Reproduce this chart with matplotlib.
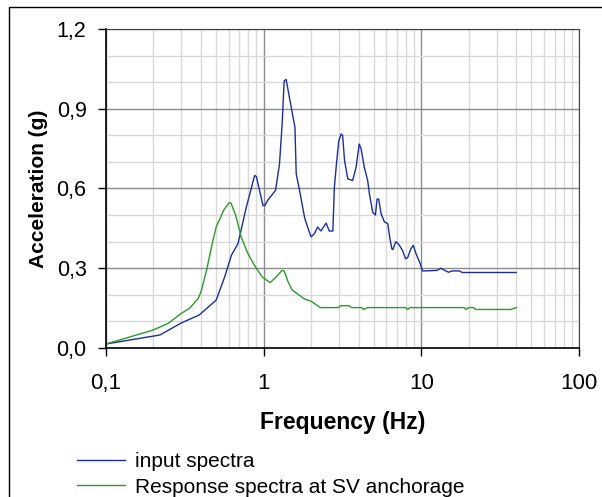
import matplotlib
matplotlib.use("Agg")
import matplotlib.pyplot as plt
from matplotlib.patches import Rectangle
from matplotlib.ticker import FixedLocator, FuncFormatter, LogLocator, NullFormatter

plt.rcParams['font.family'] = ['Liberation Sans', 'DejaVu Sans']

# input spectra (Hz, g)
input_freq = [0.1, 0.22, 0.30, 0.39, 0.50, 0.566, 0.625, 0.688, 0.777, 0.877, 0.90,
              0.99, 1.02, 1.06, 1.19, 1.26, 1.31, 1.35, 1.39, 1.46, 1.58, 1.61, 1.69,
              1.82, 1.90, 2.0, 2.1, 2.2, 2.31, 2.49, 2.61, 2.75, 2.81, 2.91, 3.0, 3.1,
              3.17, 3.26, 3.42, 3.67, 3.86, 4.04, 4.15, 4.35, 4.57, 4.69, 4.92, 5.12,
              5.24, 5.37, 5.56, 5.84, 6.13, 6.3, 6.5, 6.6, 6.9, 7.2, 7.6, 7.94, 8.2,
              8.6, 8.9, 9.26, 9.83, 10.2, 10.8, 12.6, 13.3, 14.3, 14.9, 15.7, 17.4,
              18.2, 40.0]
input_acc = [0.015, 0.049, 0.094, 0.124, 0.18, 0.267, 0.349, 0.393, 0.53, 0.649, 0.645,
             0.536, 0.536, 0.555, 0.593, 0.69, 0.84, 1.005, 1.01, 0.94, 0.83, 0.655, 0.593,
             0.49, 0.455, 0.418, 0.43, 0.455, 0.44, 0.47, 0.44, 0.44, 0.605, 0.705, 0.78,
             0.805, 0.80, 0.705, 0.636, 0.63, 0.68, 0.767, 0.75, 0.68, 0.63, 0.58, 0.51,
             0.50, 0.56, 0.56, 0.505, 0.474, 0.468, 0.418, 0.374, 0.37, 0.40, 0.39, 0.367,
             0.336, 0.34, 0.374, 0.386, 0.355, 0.318, 0.29, 0.29, 0.292, 0.30, 0.29, 0.285,
             0.29, 0.29, 0.284, 0.284]

# response spectra at SV anchorage (Hz, g)
resp_freq = [0.1, 0.199, 0.248, 0.30, 0.34, 0.384, 0.40, 0.434, 0.467, 0.50, 0.56,
             0.604, 0.62, 0.64, 0.665, 0.72, 0.795, 0.877, 0.98, 1.10, 1.20, 1.31, 1.35,
             1.43, 1.52, 1.65, 1.82, 2.0, 2.29, 3.0, 3.06, 3.5, 3.6, 4.2, 4.3, 4.57,
             7.94, 8.2, 8.5, 18.7, 19.2, 20.1, 21.5, 22.0, 37.0, 40.0]
resp_acc = [0.015, 0.0675, 0.0925, 0.13, 0.15, 0.186, 0.21, 0.29, 0.38, 0.455, 0.52,
            0.546, 0.546, 0.524, 0.50, 0.418, 0.355, 0.31, 0.267, 0.246, 0.267, 0.2925, 0.29,
            0.249, 0.2175, 0.2025, 0.184, 0.176, 0.152, 0.152, 0.159, 0.159, 0.152, 0.152, 0.145, 0.152,
            0.152, 0.145, 0.152, 0.152, 0.145, 0.152, 0.152, 0.145, 0.145, 0.152]

x_ticks = [0.1, 1, 10, 100]
x_ticklabels = ['0,1', '1', '10', '100']
y_ticks = [0.0, 0.3, 0.6, 0.9, 1.2]
y_minor = [0.1, 0.2, 0.4, 0.5, 0.7, 0.8, 1.0, 1.1]

fig = plt.figure(figsize=(6.02, 4.97), dpi=100)
ax = fig.add_axes([0.176, 0.2998, 0.7857, 0.6419])

ax.set_xscale('log')
ax.set_xlim(0.1, 100)
ax.set_ylim(0, 1.2)

# ticks and grid
ax.xaxis.set_major_locator(FixedLocator(x_ticks))
ax.xaxis.set_minor_locator(LogLocator(base=10, subs=range(2, 10), numticks=20))
ax.xaxis.set_minor_formatter(NullFormatter())
ax.set_xticklabels(x_ticklabels)
ax.yaxis.set_major_locator(FixedLocator(y_ticks))
ax.yaxis.set_minor_locator(FixedLocator(y_minor))
ax.yaxis.set_major_formatter(FuncFormatter(lambda v, p: f'{v:.1f}'.replace('.', ',')))
ax.grid(which='major', color='#8c8c8c', linewidth=1.0)
ax.grid(which='minor', color='#d9d9d9', linewidth=1.0)
ax.set_axisbelow(True)

ax.tick_params(which='major', direction='out', length=6, width=1, labelsize=16, color='black')
ax.tick_params(which='minor', length=0)
ax.tick_params(axis='x', pad=12)
ax.tick_params(axis='y', pad=8, labelsize=15.5)

for side in ['top', 'right']:
    ax.spines[side].set_color('#404040')
for side in ['left', 'bottom']:
    ax.spines[side].set_color('black')
    ax.spines[side].set_linewidth(1.2)

ax.plot(input_freq, input_acc, color='#1a2ea0', linewidth=1.0, label='input spectra')
ax.plot(resp_freq, resp_acc, color='#2a9a2a', linewidth=1.0, label='Response spectra at SV anchorage')

ax.set_xlabel('Frequency (Hz)', fontsize=16.5, fontweight='bold', labelpad=12)
ax.set_ylabel('Acceleration (g)', fontsize=15, fontweight='bold', labelpad=6)

fig.legend(loc='upper left', bbox_to_anchor=(0.128, 0.09), frameon=False,
           fontsize=15, handlelength=2.3, handletextpad=0.5, labelspacing=0.3,
           borderaxespad=0, borderpad=0)

# chart area border (right and bottom edges fall outside the picture)
fig.patches.append(Rectangle((0.015, -0.1), 1.5, 1.086, transform=fig.transFigure,
                             fill=False, edgecolor='black', linewidth=1.0))

fig.savefig('out.png', dpi=100, facecolor='white')
